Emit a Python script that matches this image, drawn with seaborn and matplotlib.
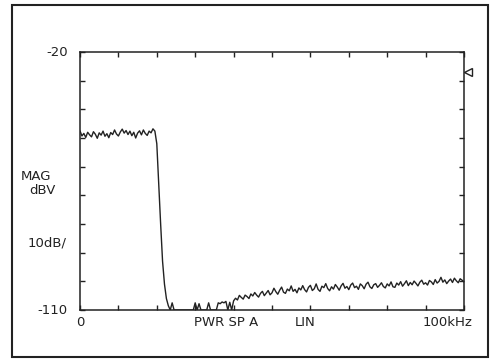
import numpy as np
import pandas as pd
import matplotlib.pyplot as plt
import matplotlib.patches as patches
import seaborn as sns

# Frequency grid of the analyzer trace (kHz) and the magnitude (dBV)
freq_khz = np.linspace(0, 100, 201)
mag_dbv = [
    # passband 0 - 19.5 kHz
    -47.5, -49.3, -48.4, -49.8, -48.0, -48.9, -49.6, -47.8, -48.7, -50.1,
    -48.2, -49.0, -47.6, -49.4, -48.5, -49.9, -48.1, -48.8, -47.2, -48.6,
    -49.3, -47.9, -46.9, -48.3, -47.4, -48.8, -47.6, -49.2, -48.0, -50.0,
    -48.3, -47.5, -48.9, -47.2, -48.4, -49.1, -47.6, -48.2, -46.8, -47.6,
    # roll-off 20 - 24.5 kHz
    -52.0, -66.0, -80.0, -93.0, -101.0, -106.0, -108.5, -110.0, -107.5, -110.0,
    # floor 25 - 39.5 kHz
    -110.0, -110.0, -110.0, -110.0, -110.0, -110.0, -110.0, -110.0, -110.0, -110.0,
    -107.5, -110.0, -107.8, -110.0, -110.0, -110.0, -110.0, -107.5, -110.0, -110.0,
    -110.0, -110.0, -107.5, -107.8, -107.2, -107.5, -107.0, -110.0, -107.3, -110.0,
    # noise 40 - 100 kHz
    -106.8, -105.9, -106.5, -104.9, -105.6, -106.2, -104.8, -105.3, -106.0, -104.4,
    -105.1, -103.9, -104.8, -105.5, -104.2, -103.5, -105.0, -104.1, -103.2, -104.7,
    -104.0, -102.4, -103.6, -104.5, -103.1, -102.0, -103.8, -104.2, -102.7, -103.3,
    -101.6, -103.5, -102.8, -104.0, -102.3, -103.0, -101.5, -102.9, -103.7, -102.1,
    -101.4, -103.2, -102.6, -100.9, -102.8, -103.5, -101.7, -102.2, -100.8, -102.5,
    -103.3, -101.9, -102.7, -101.1, -102.0, -103.1, -101.6, -100.7, -102.4, -101.8,
    -102.9, -101.3, -100.6, -102.2, -101.7, -102.8, -100.9, -101.5, -102.6, -101.0,
    -100.3, -101.9, -102.5, -101.2, -100.8, -102.1, -101.4, -100.5, -101.8, -102.3,
    -100.9, -101.6, -100.2, -101.9, -102.1, -100.6, -101.3, -100.1, -101.7, -100.8,
    -99.8, -101.5, -100.4, -101.2, -99.9, -100.7, -101.6, -100.3, -99.6, -101.0,
    -100.5, -101.3, -99.7, -100.2, -101.1, -99.4, -100.6, -100.0, -98.6, -100.3,
    -99.5, -100.8, -99.9, -99.2, -100.4, -98.9, -99.8, -100.5, -99.1, -99.6, -100.2,
]
marker_level = -27

y_ticks = list(range(-110, -19, 10))
x_ticks = list(range(0, 101, 10))

df = pd.DataFrame({"freq": freq_khz, "mag": mag_dbv})

sns.set_style("white")
plt.rcParams["font.family"] = ["DejaVu Sans"]
ink = "#222222"

fig = plt.figure(figsize=(4.96, 3.62), dpi=100)
ax = fig.add_axes([80 / 496, 1 - 310 / 362, 384 / 496, 258 / 362])

sns.lineplot(data=df, x="freq", y="mag", ax=ax, color=ink, lw=1.0,
             estimator=None)

ax.set_xlim(0, 100)
ax.set_ylim(-110, -20)
ax.set_xticks(x_ticks)
ax.set_yticks(y_ticks)
ax.tick_params(direction="in", length=3.5, width=1.0, color=ink,
               top=True, bottom=True, left=True, right=True,
               labelbottom=False, labelleft=False)
ax.set_xlabel("")
ax.set_ylabel("")
for s in ax.spines.values():
    s.set_color(ink)
    s.set_linewidth(1.1)

# reference marker on the right edge
ax.plot([101.0], [marker_level], marker="<", ms=6, mfc="white", mec=ink,
        mew=1.0, clip_on=False)

fs = 9.5
def put(px, py, txt, ha="center"):
    fig.text(px / 496, 1 - py / 362, txt, ha=ha, va="center",
             fontsize=fs, color=ink)

put(68, 53, "-20", ha="right")
put(68, 310, "-110", ha="right")
put(36, 176, "MAG")
put(42, 190, "dBV")
put(47, 243, "10dB/")
put(80, 323, "0")
put(226, 323, "PWR SP A")
put(305, 323, "LIN")
put(448, 323, "100kHz")

# outer frame around the screen plot
fig.patches.append(patches.Rectangle((12 / 496, 1 - 357 / 362), 476 / 496, 352 / 362,
                                     transform=fig.transFigure, fill=False,
                                     edgecolor=ink, lw=1.5))

fig.savefig("out.png", dpi=100, facecolor="white")
